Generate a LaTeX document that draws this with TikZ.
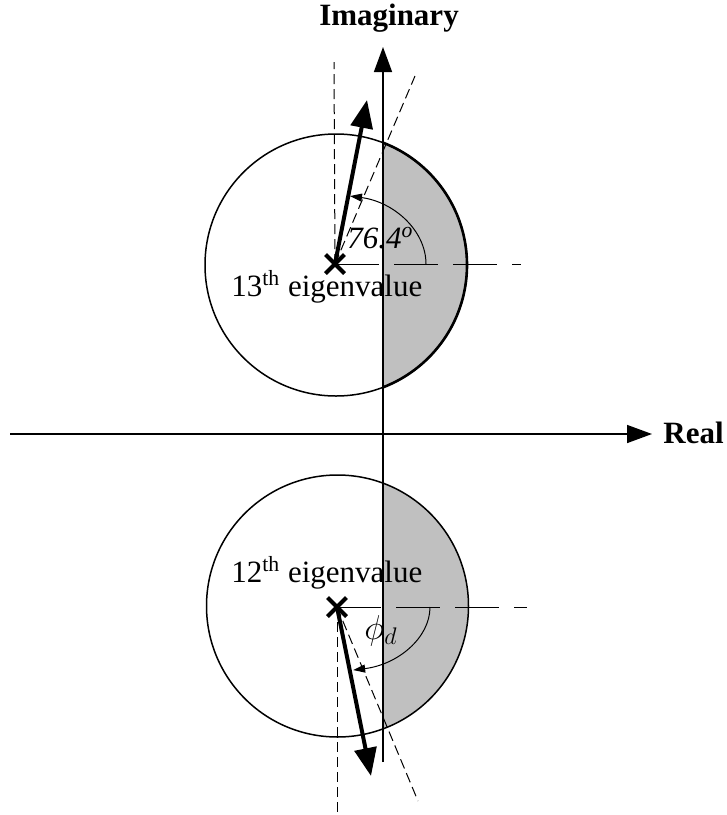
\documentclass[tikz,border=0pt]{standalone}
\usepackage{fontspec}
\setmainfont{Liberation Serif}
\usetikzlibrary{arrows.meta,shapes.misc}
\definecolor{shadegray}{RGB}{192,192,192}
\begin{document}
\begin{tikzpicture}[x=0.5pt,y=-0.5pt,
  lbl/.style={inner sep=0pt, font=\fontsize{15.5}{18}\selectfont},
  lblb/.style={inner sep=0pt, font=\bfseries\fontsize{15.5}{18}\selectfont},
  lblm/.style={inner sep=0pt, font=\fontsize{17.5}{20}\selectfont},
  axis/.style={line width=0.75pt, -{Triangle[length=12.5pt,width=9pt]}},
  vec/.style={line width=2pt, -{Triangle[length=14pt,width=11pt]}},
  guide/.style={line width=0.5pt, dash pattern=on 5pt off 2.5pt},
  refline/.style={line width=0.5pt, dash pattern=on 22pt off 7.5pt},
  angarc/.style={line width=0.5pt, -{Triangle[length=6pt,width=4pt]}},
  circ/.style={line width=0.75pt},
  eig/.style={cross out, draw, line width=2pt, minimum size=7.5pt, inner sep=0pt},
]
\useasboundingbox (0,0) rectangle (727,815);

% shaded right halves
\begin{scope}
\clip (383,0) rectangle (727,815);
\fill[shadegray] (336,265) circle[radius=131];
\fill[shadegray] (337.5,606) circle[radius=131];
\draw[line width=1.3pt] (336,265) circle[radius=131];
\end{scope}
\draw[circ] (336,265) circle[radius=131];
\draw[circ] (337.5,606) circle[radius=131];

% axes
\coordinate (ia0) at (383,762);
\coordinate (ia1) at (383,47);
\coordinate (ra0) at (10,434);
\coordinate (ra1) at (652,434);
\draw[axis] (ia0) -- (ia1);
\draw[axis] (ra0) -- (ra1);
\node[lblb, anchor=base] (imag) at (389,25) {Imaginary};
\node[lblb, anchor=base west] (real) at (663,443) {Real};

% 13th eigenvalue
\node[eig] (e13) at (335,264) {};
\coordinate (v13) at (367,100);
\coordinate (g13v) at (334,62);
\coordinate (g13t) at (415,76);
\coordinate (h13) at (521,264);
\draw[guide] (e13.center) -- (g13v);
\draw[guide] (e13.center) -- (g13t);
\draw[refline] (e13.center) -- (h13);
\draw[vec] (e13.center) -- (v13);
\draw[angarc] (426,264) arc[start angle=0,end angle=-80,x radius=92,y radius=69];
\node[lbl, anchor=base west] (l13) at (231,296) {13\textsuperscript{th} eigenvalue};
\node[lbl, anchor=base west] (ang13) at (347,248) {\textit{76.4\textsuperscript{o}}};

% 12th eigenvalue
\node[eig] (e12) at (337,607) {};
\coordinate (v12) at (371,776);
\coordinate (g12v) at (337,813);
\coordinate (g12t) at (418,801);
\coordinate (h12) at (527,607);
\draw[guide] (e12.center) -- (g12v);
\draw[guide] (e12.center) -- (g12t);
\draw[refline] (e12.center) -- (h12);
\draw[vec] (e12.center) -- (v12);
\draw[angarc] (430,607) arc[start angle=0,end angle=80,x radius=93,y radius=64];
\node[lbl, anchor=base west] (l12) at (231,582) {12\textsuperscript{th} eigenvalue};
\node[lblm, anchor=base west] (ang12) at (364,639) {\(\phi_d\)};
\end{tikzpicture}
\end{document}
